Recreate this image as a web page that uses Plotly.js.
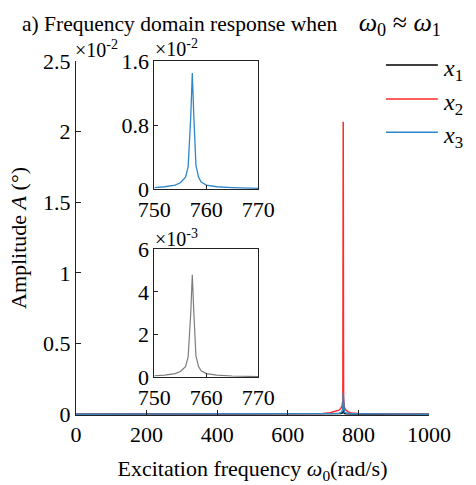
<!DOCTYPE html>
<html>
<head>
<meta charset="utf-8">
<script src="https://cdn.plot.ly/plotly-3.0.1.min.js"></script>
<style>
  html, body { margin: 0; padding: 0; background: #fff; }
  #chart { width: 476px; height: 485px; }
</style>
</head>
<body>
<div id="chart"></div>
<script>
// Full sweep of excitation frequency (rad/s); amplitudes in units of 1e-2 degrees
const freqMain = [0, 100, 200, 300, 400, 500, 600, 650, 700, 720, 735, 745, 750, 754, 756, 757, 758, 760, 764, 770, 780, 800, 850, 900, 1000];
const x1Main = [0, 0, 0, 0, 0, 0, 0, 0, 0.001, 0.001, 0.002, 0.003, 0.005, 0.008, 0.015, 0.05, 0.015, 0.006, 0.003, 0.002, 0.001, 0.001, 0, 0, 0];
const x2Main = [0, 0, 0, 0, 0, 0, 0.001, 0.002, 0.004, 0.01, 0.018, 0.028, 0.04, 0.06, 0.1, 2.07, 0.11, 0.05, 0.03, 0.018, 0.008, 0.004, 0.002, 0.001, 0];
const x3Main = [0, 0, 0, 0, 0, 0, 0, 0.001, 0.001, 0.002, 0.004, 0.007, 0.01, 0.02, 0.04, 0.15, 0.04, 0.015, 0.008, 0.005, 0.003, 0.002, 0.001, 0, 0];

// Close-up around the resonance, 750–770 rad/s
const freqZoom = [750, 752, 754, 755, 756, 756.5, 757, 757.3, 757.6, 758, 758.5, 759, 760, 762, 765, 770];
const x3Zoom = [0.02, 0.03, 0.05, 0.08, 0.15, 0.28, 0.9, 1.45, 0.9, 0.3, 0.15, 0.09, 0.05, 0.03, 0.02, 0.01];   // ×1e-2
const x1Zoom = [0.07, 0.1, 0.17, 0.27, 0.5, 0.95, 3.0, 4.8, 3.0, 1.0, 0.5, 0.3, 0.17, 0.1, 0.06, 0.03];       // ×1e-3

// Tick labels
const mainXTicks = [0, 200, 400, 600, 800, 1000];
const mainYTicks = [0, 0.5, 1, 1.5, 2, 2.5];
const zoomXTicks = [750, 760, 770];
const upperYTicks = [0, 0.8, 1.6];
const upperYLabels = ['0', '0.8', '1.6'];
const lowerYTicks = [0, 2, 4, 6];

const seriesNames = ['x1', 'x2', 'x3'];
const colors = { x1: '#000000', x2: '#ff2a2a', x3: '#2f86c8', grey: '#7c7c7c' };
const FONT = '"Liberation Serif", "Times New Roman", serif';

const traces = [
  { x: freqMain, y: x1Main, name: seriesNames[0], mode: 'lines', line: { color: colors.x1, width: 1.5 }, xaxis: 'x', yaxis: 'y' },
  { x: freqMain, y: x2Main, name: seriesNames[1], mode: 'lines', line: { color: colors.x2, width: 1.5 }, xaxis: 'x', yaxis: 'y' },
  { x: freqMain, y: x3Main, name: seriesNames[2], mode: 'lines', line: { color: colors.x3, width: 1.5 }, xaxis: 'x', yaxis: 'y' },
  { x: freqZoom, y: x3Zoom, name: 'x3 zoom', mode: 'lines', line: { color: colors.x3, width: 1.3 }, xaxis: 'x2', yaxis: 'y2' },
  { x: freqZoom, y: x1Zoom, name: 'x1 zoom', mode: 'lines', line: { color: colors.grey, width: 1.2 }, xaxis: 'x3', yaxis: 'y3' }
];

const tickFont = { family: FONT, size: 22, color: '#000' };

function insetAxis(extra) {
  return Object.assign({
    showline: true, mirror: true, linecolor: '#222', linewidth: 1,
    ticks: 'inside', ticklen: 4, tickcolor: '#222',
    showgrid: false, zeroline: false, tickfont: tickFont, fixedrange: true
  }, extra);
}

// Legend drawn as short line segments with math-style labels
const legendRows = [0.989, 0.893, 0.799];
const shapes = seriesNames.map((s, i) => ({
  type: 'line', xref: 'paper', yref: 'paper',
  x0: 0.878, x1: 1.025, y0: legendRows[i], y1: legendRows[i],
  line: { color: colors[s], width: 1.5 }
}));
const annotations = seriesNames.map((s, i) => ({
  xref: 'paper', yref: 'paper', x: 1.035, y: legendRows[i] - 0.014,
  xanchor: 'left', yanchor: 'middle', showarrow: false,
  text: '<i>x</i><sub>' + (i + 1) + '</sub>',
  font: { family: FONT, size: 24, color: '#000' }
}));

// Exponent multipliers above each y axis
const expFont = { family: FONT, size: 20, color: '#000' };
annotations.push(
  { xref: 'paper', yref: 'paper', x: -0.008, y: 0.993, xanchor: 'left', yanchor: 'bottom', showarrow: false,
    text: '×10<sup>-2</sup>', font: expFont },
  { xref: 'paper', yref: 'paper', x: 0.218, y: 0.996, xanchor: 'left', yanchor: 'bottom', showarrow: false,
    text: '×10<sup>-2</sup>', font: expFont },
  { xref: 'paper', yref: 'paper', x: 0.218, y: 0.461, xanchor: 'left', yanchor: 'bottom', showarrow: false,
    text: '×10<sup>-3</sup>', font: expFont }
);

// Panel heading, placed at the top-left of the figure
annotations.push({
  xref: 'paper', yref: 'paper', x: -0.16, y: 1.155, xanchor: 'left', yanchor: 'top', showarrow: false,
  text: 'a) Frequency domain response when\u00a0\u00a0\u00a0 <span style="font-size:26px"><i>ω</i><sub>0</sub> ≈ <i>ω</i><sub>1</sub></span>',
  font: { family: FONT, size: 21.5, color: '#000' }
});

const layout = {
  width: 476, height: 485,
  margin: { l: 76, r: 47, t: 61, b: 70 },
  paper_bgcolor: '#fff', plot_bgcolor: 'rgba(0,0,0,0)',
  showlegend: false,
  font: { family: FONT, size: 22, color: '#000' },
  xaxis: {
    domain: [0, 1], range: [0, 1000], tickvals: mainXTicks,
    showline: true, linecolor: '#222', linewidth: 1,
    ticks: 'inside', ticklen: 5, tickcolor: '#222',
    showgrid: false, zeroline: false, tickfont: tickFont,
    title: { text: 'Excitation frequency <i>ω</i><sub>0</sub>(rad/s)', font: { family: FONT, size: 22 }, standoff: 14 }
  },
  yaxis: {
    domain: [0, 1], range: [-0.006, 2.5], tickvals: mainYTicks,
    showline: true, linecolor: '#222', linewidth: 1,
    ticks: 'inside', ticklen: 5, tickcolor: '#222',
    showgrid: false, zeroline: false, tickfont: tickFont,
    title: { text: 'Amplitude <i>A</i> (°)', font: { family: FONT, size: 22 }, standoff: 10 }
  },
  xaxis2: insetAxis({ domain: [0.222, 0.5164], range: [750, 770], tickvals: zoomXTicks, anchor: 'y2' }),
  yaxis2: insetAxis({ domain: [0.638, 1.0], range: [0, 1.6], tickvals: upperYTicks, ticktext: upperYLabels, anchor: 'x2' }),
  xaxis3: insetAxis({ domain: [0.222, 0.5164], range: [750, 770], tickvals: zoomXTicks, anchor: 'y3' }),
  yaxis3: insetAxis({ domain: [0.1066, 0.4685], range: [0, 6], tickvals: lowerYTicks, anchor: 'x3' }),
  shapes: shapes,
  annotations: annotations
};

Plotly.newPlot('chart', traces, layout, { displayModeBar: false, staticPlot: true });
</script>
</body>
</html>
